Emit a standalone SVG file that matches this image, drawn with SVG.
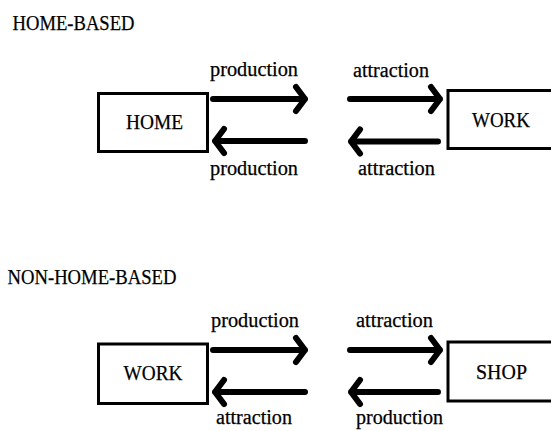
<svg xmlns="http://www.w3.org/2000/svg" width="551" height="431" viewBox="0 0 551 431">
<style>
text{font-family:'Liberation Serif','Times New Roman',serif;fill:#000;stroke:#000;stroke-width:0.25}
.h{font-size:21px}
.n{font-size:21px}
.l{font-size:20px}
.box{fill:#fff;stroke:#000;stroke-width:3}
.ar{fill:none;stroke:#000;stroke-width:6;stroke-linecap:round;stroke-linejoin:round}
</style>
<rect width="551" height="431" fill="#fff"/>
<text class="h" x="12.5" y="30" textLength="122" lengthAdjust="spacingAndGlyphs">HOME-BASED</text>
<text class="h" x="7.5" y="284" textLength="169" lengthAdjust="spacingAndGlyphs">NON-HOME-BASED</text>
<g id="home1">
<rect class="box" x="98.5" y="93.5" width="109" height="58"/>
<text class="n" x="126" y="128.5" textLength="57" lengthAdjust="spacingAndGlyphs">HOME</text>
</g>
<g id="work1">
<rect class="box" x="448" y="90.5" width="106" height="58"/>
<text class="n" x="472" y="126.5" textLength="58" lengthAdjust="spacingAndGlyphs">WORK</text>
</g>
<g id="work2">
<rect class="box" x="98.5" y="344" width="109" height="59.5"/>
<text class="n" x="123.5" y="379.5" textLength="59" lengthAdjust="spacingAndGlyphs">WORK</text>
</g>
<g id="shop2">
<rect class="box" x="448" y="342" width="106" height="59"/>
<text class="n" x="476" y="379" textLength="51" lengthAdjust="spacingAndGlyphs">SHOP</text>
</g>
<g id="connectors">
<path class="ar" d="M213,99 H305 M296,87 L305,99 L296,111"/>
<path class="ar" d="M305,141 H215 M224,129 L215,141 L224,153"/>
<path class="ar" d="M350,99 H440 M431,87 L440,99 L431,111"/>
<path class="ar" d="M438,141.5 H351 M360,129.5 L351,141.5 L360,153.5"/>
<path class="ar" d="M213,350 H305 M296,338 L305,350 L296,362"/>
<path class="ar" d="M305,392 H215 M224,380 L215,392 L224,404"/>
<path class="ar" d="M350,350 H440 M431,338 L440,350 L431,362"/>
<path class="ar" d="M438,392 H351 M360,380 L351,392 L360,404"/>
</g>
<g id="labels">
<text class="l" x="210" y="76" textLength="88" lengthAdjust="spacingAndGlyphs">production</text>
<text class="l" x="353" y="76.5" textLength="76" lengthAdjust="spacingAndGlyphs">attraction</text>
<text class="l" x="210" y="175" textLength="88" lengthAdjust="spacingAndGlyphs">production</text>
<text class="l" x="358" y="175" textLength="77" lengthAdjust="spacingAndGlyphs">attraction</text>
<text class="l" x="211" y="327" textLength="88" lengthAdjust="spacingAndGlyphs">production</text>
<text class="l" x="356" y="327" textLength="77" lengthAdjust="spacingAndGlyphs">attraction</text>
<text class="l" x="216" y="424" textLength="76" lengthAdjust="spacingAndGlyphs">attraction</text>
<text class="l" x="356" y="424" textLength="87" lengthAdjust="spacingAndGlyphs">production</text>
</g>
</svg>
